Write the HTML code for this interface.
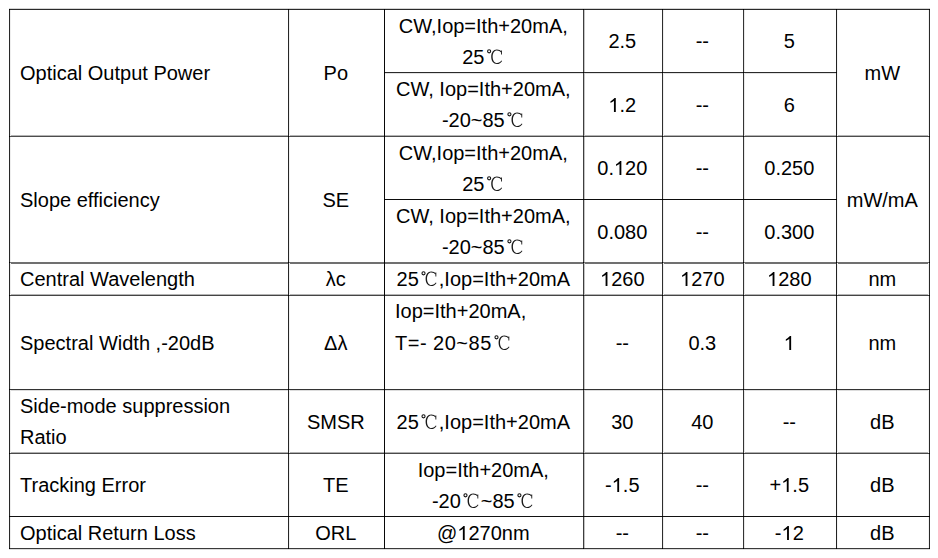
<!DOCTYPE html>
<html><head><meta charset="utf-8"><title>Optical characteristics</title>
<style>
html,body{margin:0;padding:0;background:#fff;}
body{width:938px;height:558px;position:relative;overflow:hidden;font-family:"Liberation Sans",sans-serif;}
.h,.v,.d{position:absolute;}
.d{width:1px;height:1px;background:#000;}
.t{position:absolute;font-size:20px;line-height:20px;height:20px;white-space:pre;color:#000;}
.c{text-align:center;}
.ph{display:inline-block;height:1px;}
.pd{width:20px;}
.p1{width:11.12px;}
#ov{position:absolute;left:0;top:0;}
#ov .g1{fill:#000;}
#ov .gd{fill:#1a1a1a;}
#ov .gd .s{fill:none;stroke:#111;stroke-width:1.1;}
</style></head><body>

<div class="h" style="left:9px;top:8px;width:921px;height:1px;background:#d4d4d4"></div>
<div class="h" style="left:384px;top:73px;width:453px;height:1px;background:#e2e2e2"></div>
<div class="h" style="left:9px;top:135px;width:921px;height:1px;background:#b4b4b4"></div>
<div class="h" style="left:9px;top:263px;width:921px;height:1px;background:#707070"></div>
<div class="h" style="left:9px;top:294px;width:921px;height:1px;background:#b4b4b4"></div>
<div class="h" style="left:9px;top:390px;width:921px;height:1px;background:#dcdcdc"></div>
<div class="h" style="left:9px;top:452px;width:921px;height:1px;background:#b0b0b0"></div>
<div class="h" style="left:9px;top:549px;width:921px;height:1px;background:#dcdcdc"></div>
<div class="v" style="left:10px;top:9px;width:1px;height:540px;background:#eeeeee"></div>
<div class="v" style="left:289px;top:9px;width:1px;height:540px;background:#f0f0f0"></div>
<div class="v" style="left:584px;top:9px;width:1px;height:540px;background:#c4c4c4"></div>
<div class="v" style="left:663px;top:9px;width:1px;height:540px;background:#eeeeee"></div>
<div class="v" style="left:744px;top:9px;width:1px;height:540px;background:#e8e8e8"></div>
<div class="v" style="left:837px;top:9px;width:1px;height:540px;background:#f4f4f4"></div>
<div class="v" style="left:928px;top:9px;width:1px;height:540px;background:#f2f2f2"></div>
<div class="h" style="left:9px;top:9px;width:921px;height:1px;background:#2a2a2a"></div>
<div class="h" style="left:384px;top:72px;width:453px;height:1px;background:#2a2a2a"></div>
<div class="h" style="left:9px;top:136px;width:921px;height:1px;background:#4d4d4d"></div>
<div class="h" style="left:384px;top:199px;width:453px;height:1px;background:#0c0c0c"></div>
<div class="h" style="left:9px;top:262px;width:921px;height:1px;background:#707070"></div>
<div class="h" style="left:9px;top:295px;width:921px;height:1px;background:#444444"></div>
<div class="h" style="left:9px;top:389px;width:921px;height:1px;background:#333333"></div>
<div class="h" style="left:9px;top:453px;width:921px;height:1px;background:#4a4a4a"></div>
<div class="h" style="left:9px;top:516px;width:921px;height:1px;background:#121212"></div>
<div class="h" style="left:9px;top:548px;width:921px;height:1px;background:#3a3a3a"></div>
<div class="v" style="left:9px;top:9px;width:1px;height:540px;background:#282828"></div>
<div class="v" style="left:288px;top:9px;width:1px;height:540px;background:#262626"></div>
<div class="v" style="left:384px;top:9px;width:1px;height:540px;background:#080808"></div>
<div class="v" style="left:583px;top:9px;width:1px;height:540px;background:#3e3e3e"></div>
<div class="v" style="left:662px;top:9px;width:1px;height:540px;background:#2e2e2e"></div>
<div class="v" style="left:743px;top:9px;width:1px;height:540px;background:#333333"></div>
<div class="v" style="left:836px;top:9px;width:1px;height:540px;background:#222222"></div>
<div class="v" style="left:929px;top:9px;width:1px;height:540px;background:#282828"></div>
<div class="d" style="left:9px;top:9px"></div>
<div class="d" style="left:288px;top:9px"></div>
<div class="d" style="left:384px;top:9px"></div>
<div class="d" style="left:583px;top:9px"></div>
<div class="d" style="left:662px;top:9px"></div>
<div class="d" style="left:743px;top:9px"></div>
<div class="d" style="left:836px;top:9px"></div>
<div class="d" style="left:929px;top:9px"></div>
<div class="d" style="left:384px;top:72px"></div>
<div class="d" style="left:583px;top:72px"></div>
<div class="d" style="left:662px;top:72px"></div>
<div class="d" style="left:743px;top:72px"></div>
<div class="d" style="left:836px;top:72px"></div>
<div class="d" style="left:9px;top:136px"></div>
<div class="d" style="left:288px;top:136px"></div>
<div class="d" style="left:384px;top:136px"></div>
<div class="d" style="left:583px;top:136px"></div>
<div class="d" style="left:662px;top:136px"></div>
<div class="d" style="left:743px;top:136px"></div>
<div class="d" style="left:836px;top:136px"></div>
<div class="d" style="left:929px;top:136px"></div>
<div class="d" style="left:384px;top:199px"></div>
<div class="d" style="left:583px;top:199px"></div>
<div class="d" style="left:662px;top:199px"></div>
<div class="d" style="left:743px;top:199px"></div>
<div class="d" style="left:836px;top:199px"></div>
<div class="d" style="left:9px;top:262px"></div>
<div class="d" style="left:288px;top:262px"></div>
<div class="d" style="left:384px;top:262px"></div>
<div class="d" style="left:583px;top:262px"></div>
<div class="d" style="left:662px;top:262px"></div>
<div class="d" style="left:743px;top:262px"></div>
<div class="d" style="left:836px;top:262px"></div>
<div class="d" style="left:929px;top:262px"></div>
<div class="d" style="left:9px;top:295px"></div>
<div class="d" style="left:288px;top:295px"></div>
<div class="d" style="left:384px;top:295px"></div>
<div class="d" style="left:583px;top:295px"></div>
<div class="d" style="left:662px;top:295px"></div>
<div class="d" style="left:743px;top:295px"></div>
<div class="d" style="left:836px;top:295px"></div>
<div class="d" style="left:929px;top:295px"></div>
<div class="d" style="left:9px;top:389px"></div>
<div class="d" style="left:288px;top:389px"></div>
<div class="d" style="left:384px;top:389px"></div>
<div class="d" style="left:583px;top:389px"></div>
<div class="d" style="left:662px;top:389px"></div>
<div class="d" style="left:743px;top:389px"></div>
<div class="d" style="left:836px;top:389px"></div>
<div class="d" style="left:929px;top:389px"></div>
<div class="d" style="left:9px;top:453px"></div>
<div class="d" style="left:288px;top:453px"></div>
<div class="d" style="left:384px;top:453px"></div>
<div class="d" style="left:583px;top:453px"></div>
<div class="d" style="left:662px;top:453px"></div>
<div class="d" style="left:743px;top:453px"></div>
<div class="d" style="left:836px;top:453px"></div>
<div class="d" style="left:929px;top:453px"></div>
<div class="d" style="left:9px;top:516px"></div>
<div class="d" style="left:288px;top:516px"></div>
<div class="d" style="left:384px;top:516px"></div>
<div class="d" style="left:583px;top:516px"></div>
<div class="d" style="left:662px;top:516px"></div>
<div class="d" style="left:743px;top:516px"></div>
<div class="d" style="left:836px;top:516px"></div>
<div class="d" style="left:929px;top:516px"></div>
<div class="d" style="left:9px;top:548px"></div>
<div class="d" style="left:288px;top:548px"></div>
<div class="d" style="left:384px;top:548px"></div>
<div class="d" style="left:583px;top:548px"></div>
<div class="d" style="left:662px;top:548px"></div>
<div class="d" style="left:743px;top:548px"></div>
<div class="d" style="left:836px;top:548px"></div>
<div class="d" style="left:929px;top:548px"></div>
<div class="t" style="left:20.0px;top:63px">Optical Output Power</div>
<div class="t c" style="left:287.8px;width:96px;top:63px">Po</div>
<div class="t c" style="left:383.8px;width:199px;top:16px">CW,Iop=Ith+20mA,</div>
<div class="t c" style="left:383.8px;width:199px;top:47px">25<span class="ph pd"></span></div>
<div class="t c" style="left:383.8px;width:199px;top:79px">CW, Iop=Ith+20mA,</div>
<div class="t c" style="left:383.8px;width:199px;top:110px">-20~85<span class="ph pd"></span></div>
<div class="t c" style="left:582.8px;width:79px;top:31px">2.5</div>
<div class="t c" style="left:582.8px;width:79px;top:95px"><span class="ph p1"></span>.2</div>
<div class="t c" style="left:661.8px;width:81px;top:31px">--</div>
<div class="t c" style="left:661.8px;width:81px;top:95px">--</div>
<div class="t c" style="left:742.8px;width:93px;top:31px">5</div>
<div class="t c" style="left:742.8px;width:93px;top:95px">6</div>
<div class="t c" style="left:835.8px;width:93px;top:63px">mW</div>
<div class="t" style="left:20.0px;top:190px">Slope efficiency</div>
<div class="t c" style="left:287.8px;width:96px;top:190px">SE</div>
<div class="t c" style="left:383.8px;width:199px;top:143px">CW,Iop=Ith+20mA,</div>
<div class="t c" style="left:383.8px;width:199px;top:174px">25<span class="ph pd"></span></div>
<div class="t c" style="left:383.8px;width:199px;top:206px">CW, Iop=Ith+20mA,</div>
<div class="t c" style="left:383.8px;width:199px;top:237px">-20~85<span class="ph pd"></span></div>
<div class="t c" style="left:582.8px;width:79px;top:158px">0.<span class="ph p1"></span>20</div>
<div class="t c" style="left:582.8px;width:79px;top:222px">0.080</div>
<div class="t c" style="left:661.8px;width:81px;top:158px">--</div>
<div class="t c" style="left:661.8px;width:81px;top:222px">--</div>
<div class="t c" style="left:742.8px;width:93px;top:158px">0.250</div>
<div class="t c" style="left:742.8px;width:93px;top:222px">0.300</div>
<div class="t c" style="left:835.8px;width:93px;top:190px">mW/mA</div>
<div class="t" style="left:20.0px;top:269px">Central Wavelength</div>
<div class="t c" style="left:287.8px;width:96px;top:269px">λc</div>
<div class="t c" style="left:383.8px;width:199px;top:269px">25<span class="ph pd"></span>,Iop=Ith+20mA</div>
<div class="t c" style="left:582.8px;width:79px;top:269px"><span class="ph p1"></span>260</div>
<div class="t c" style="left:661.8px;width:81px;top:269px"><span class="ph p1"></span>270</div>
<div class="t c" style="left:742.8px;width:93px;top:269px"><span class="ph p1"></span>280</div>
<div class="t c" style="left:835.8px;width:93px;top:269px">nm</div>
<div class="t" style="left:20.0px;top:333px">Spectral Width ,-20dB</div>
<div class="t c" style="left:287.8px;width:96px;top:333px">Δλ</div>
<div class="t" style="left:395.0px;top:301px">Iop=Ith+20mA,</div>
<div class="t" style="left:395.0px;top:333px"><span style="letter-spacing:0.5px">T=- 20~85</span><span class="ph pd"></span></div>
<div class="t c" style="left:582.8px;width:79px;top:333px">--</div>
<div class="t c" style="left:661.8px;width:81px;top:333px">0.3</div>
<div class="t c" style="left:742.8px;width:93px;top:333px"><span class="ph p1"></span></div>
<div class="t c" style="left:835.8px;width:93px;top:333px">nm</div>
<div class="t" style="left:20.0px;top:396px">Side-mode suppression</div>
<div class="t" style="left:20.0px;top:427px">Ratio</div>
<div class="t c" style="left:287.8px;width:96px;top:412px">SMSR</div>
<div class="t c" style="left:383.8px;width:199px;top:412px">25<span class="ph pd"></span>,Iop=Ith+20mA</div>
<div class="t c" style="left:582.8px;width:79px;top:412px">30</div>
<div class="t c" style="left:661.8px;width:81px;top:412px">40</div>
<div class="t c" style="left:742.8px;width:93px;top:412px">--</div>
<div class="t c" style="left:835.8px;width:93px;top:412px">dB</div>
<div class="t" style="left:20.0px;top:475px">Tracking Error</div>
<div class="t c" style="left:287.8px;width:96px;top:475px">TE</div>
<div class="t c" style="left:383.8px;width:199px;top:460px">Iop=Ith+20mA,</div>
<div class="t c" style="left:383.8px;width:199px;top:491px">-20<span class="ph pd"></span>~85<span class="ph pd"></span></div>
<div class="t c" style="left:582.8px;width:79px;top:475px">-<span class="ph p1"></span>.5</div>
<div class="t c" style="left:661.8px;width:81px;top:475px">--</div>
<div class="t c" style="left:742.8px;width:93px;top:475px">+<span class="ph p1"></span>.5</div>
<div class="t c" style="left:835.8px;width:93px;top:475px">dB</div>
<div class="t" style="left:20.0px;top:523px">Optical Return Loss</div>
<div class="t c" style="left:287.8px;width:96px;top:523px">ORL</div>
<div class="t c" style="left:383.8px;width:199px;top:523px">@<span class="ph p1"></span>270nm</div>
<div class="t c" style="left:582.8px;width:79px;top:523px">--</div>
<div class="t c" style="left:661.8px;width:81px;top:523px">--</div>
<div class="t c" style="left:742.8px;width:93px;top:523px">-<span class="ph p1"></span>2</div>
<div class="t c" style="left:835.8px;width:93px;top:523px">dB</div>
<svg id="ov" width="938" height="558" viewBox="0 0 938 558">
<g class="g1"><path transform="translate(608.391 112.00)" d="M7.4 0L5.55 0L5.55 -11.3C5.1 -10.85 4.5 -10.4 3.8 -10.0C3.2 -9.6 2.6 -9.25 2.1 -9.0L2.1 -10.8C3.0 -11.25 3.85 -11.8 4.55 -12.45C5.25 -13.05 5.75 -13.55 6.1 -14.0L7.4 -14.0Z"/><path transform="translate(613.953 175.00)" d="M7.4 0L5.55 0L5.55 -11.3C5.1 -10.85 4.5 -10.4 3.8 -10.0C3.2 -9.6 2.6 -9.25 2.1 -9.0L2.1 -10.8C3.0 -11.25 3.85 -11.8 4.55 -12.45C5.25 -13.05 5.75 -13.55 6.1 -14.0L7.4 -14.0Z"/><path transform="translate(600.047 286.00)" d="M7.4 0L5.55 0L5.55 -11.3C5.1 -10.85 4.5 -10.4 3.8 -10.0C3.2 -9.6 2.6 -9.25 2.1 -9.0L2.1 -10.8C3.0 -11.25 3.85 -11.8 4.55 -12.45C5.25 -13.05 5.75 -13.55 6.1 -14.0L7.4 -14.0Z"/><path transform="translate(680.047 286.00)" d="M7.4 0L5.55 0L5.55 -11.3C5.1 -10.85 4.5 -10.4 3.8 -10.0C3.2 -9.6 2.6 -9.25 2.1 -9.0L2.1 -10.8C3.0 -11.25 3.85 -11.8 4.55 -12.45C5.25 -13.05 5.75 -13.55 6.1 -14.0L7.4 -14.0Z"/><path transform="translate(767.047 286.00)" d="M7.4 0L5.55 0L5.55 -11.3C5.1 -10.85 4.5 -10.4 3.8 -10.0C3.2 -9.6 2.6 -9.25 2.1 -9.0L2.1 -10.8C3.0 -11.25 3.85 -11.8 4.55 -12.45C5.25 -13.05 5.75 -13.55 6.1 -14.0L7.4 -14.0Z"/><path transform="translate(783.734 350.00)" d="M7.4 0L5.55 0L5.55 -11.3C5.1 -10.85 4.5 -10.4 3.8 -10.0C3.2 -9.6 2.6 -9.25 2.1 -9.0L2.1 -10.8C3.0 -11.25 3.85 -11.8 4.55 -12.45C5.25 -13.05 5.75 -13.55 6.1 -14.0L7.4 -14.0Z"/><path transform="translate(611.734 492.00)" d="M7.4 0L5.55 0L5.55 -11.3C5.1 -10.85 4.5 -10.4 3.8 -10.0C3.2 -9.6 2.6 -9.25 2.1 -9.0L2.1 -10.8C3.0 -11.25 3.85 -11.8 4.55 -12.45C5.25 -13.05 5.75 -13.55 6.1 -14.0L7.4 -14.0Z"/><path transform="translate(781.234 492.00)" d="M7.4 0L5.55 0L5.55 -11.3C5.1 -10.85 4.5 -10.4 3.8 -10.0C3.2 -9.6 2.6 -9.25 2.1 -9.0L2.1 -10.8C3.0 -11.25 3.85 -11.8 4.55 -12.45C5.25 -13.05 5.75 -13.55 6.1 -14.0L7.4 -14.0Z"/><path transform="translate(457.312 540.00)" d="M7.4 0L5.55 0L5.55 -11.3C5.1 -10.85 4.5 -10.4 3.8 -10.0C3.2 -9.6 2.6 -9.25 2.1 -9.0L2.1 -10.8C3.0 -11.25 3.85 -11.8 4.55 -12.45C5.25 -13.05 5.75 -13.55 6.1 -14.0L7.4 -14.0Z"/><path transform="translate(781.516 540.00)" d="M7.4 0L5.55 0L5.55 -11.3C5.1 -10.85 4.5 -10.4 3.8 -10.0C3.2 -9.6 2.6 -9.25 2.1 -9.0L2.1 -10.8C3.0 -11.25 3.85 -11.8 4.55 -12.45C5.25 -13.05 5.75 -13.55 6.1 -14.0L7.4 -14.0Z"/></g>
<g class="gd"><g transform="translate(484.422 63.90)"><circle class="s" cx="4.7" cy="-12.6" r="1.55"/><path d="M17.3 -12.2C16.1 -13.6 14.4 -14.4 12.4 -14.4C8.9 -14.4 6.8 -11.3 6.8 -7.15C6.8 -2.8 9.1 0.1 12.5 0.1C14.8 0.1 16.5 -1.1 17.7 -3.0L17.0 -3.4C16.0 -1.9 14.5 -0.9 12.6 -0.9C9.9 -0.9 8.2 -3.5 8.2 -7.15C8.2 -10.8 9.9 -13.4 12.5 -13.4C14.2 -13.4 15.7 -12.6 16.7 -11.4Z"/><rect x="16.6" y="-13.4" width="0.9" height="4"/></g><g transform="translate(504.719 126.90)"><circle class="s" cx="4.7" cy="-12.6" r="1.55"/><path d="M17.3 -12.2C16.1 -13.6 14.4 -14.4 12.4 -14.4C8.9 -14.4 6.8 -11.3 6.8 -7.15C6.8 -2.8 9.1 0.1 12.5 0.1C14.8 0.1 16.5 -1.1 17.7 -3.0L17.0 -3.4C16.0 -1.9 14.5 -0.9 12.6 -0.9C9.9 -0.9 8.2 -3.5 8.2 -7.15C8.2 -10.8 9.9 -13.4 12.5 -13.4C14.2 -13.4 15.7 -12.6 16.7 -11.4Z"/><rect x="16.6" y="-13.4" width="0.9" height="4"/></g><g transform="translate(484.422 190.90)"><circle class="s" cx="4.7" cy="-12.6" r="1.55"/><path d="M17.3 -12.2C16.1 -13.6 14.4 -14.4 12.4 -14.4C8.9 -14.4 6.8 -11.3 6.8 -7.15C6.8 -2.8 9.1 0.1 12.5 0.1C14.8 0.1 16.5 -1.1 17.7 -3.0L17.0 -3.4C16.0 -1.9 14.5 -0.9 12.6 -0.9C9.9 -0.9 8.2 -3.5 8.2 -7.15C8.2 -10.8 9.9 -13.4 12.5 -13.4C14.2 -13.4 15.7 -12.6 16.7 -11.4Z"/><rect x="16.6" y="-13.4" width="0.9" height="4"/></g><g transform="translate(504.719 253.90)"><circle class="s" cx="4.7" cy="-12.6" r="1.55"/><path d="M17.3 -12.2C16.1 -13.6 14.4 -14.4 12.4 -14.4C8.9 -14.4 6.8 -11.3 6.8 -7.15C6.8 -2.8 9.1 0.1 12.5 0.1C14.8 0.1 16.5 -1.1 17.7 -3.0L17.0 -3.4C16.0 -1.9 14.5 -0.9 12.6 -0.9C9.9 -0.9 8.2 -3.5 8.2 -7.15C8.2 -10.8 9.9 -13.4 12.5 -13.4C14.2 -13.4 15.7 -12.6 16.7 -11.4Z"/><rect x="16.6" y="-13.4" width="0.9" height="4"/></g><g transform="translate(418.812 285.90)"><circle class="s" cx="4.7" cy="-12.6" r="1.55"/><path d="M17.3 -12.2C16.1 -13.6 14.4 -14.4 12.4 -14.4C8.9 -14.4 6.8 -11.3 6.8 -7.15C6.8 -2.8 9.1 0.1 12.5 0.1C14.8 0.1 16.5 -1.1 17.7 -3.0L17.0 -3.4C16.0 -1.9 14.5 -0.9 12.6 -0.9C9.9 -0.9 8.2 -3.5 8.2 -7.15C8.2 -10.8 9.9 -13.4 12.5 -13.4C14.2 -13.4 15.7 -12.6 16.7 -11.4Z"/><rect x="16.6" y="-13.4" width="0.9" height="4"/></g><g transform="translate(491.797 349.90)"><circle class="s" cx="4.7" cy="-12.6" r="1.55"/><path d="M17.3 -12.2C16.1 -13.6 14.4 -14.4 12.4 -14.4C8.9 -14.4 6.8 -11.3 6.8 -7.15C6.8 -2.8 9.1 0.1 12.5 0.1C14.8 0.1 16.5 -1.1 17.7 -3.0L17.0 -3.4C16.0 -1.9 14.5 -0.9 12.6 -0.9C9.9 -0.9 8.2 -3.5 8.2 -7.15C8.2 -10.8 9.9 -13.4 12.5 -13.4C14.2 -13.4 15.7 -12.6 16.7 -11.4Z"/><rect x="16.6" y="-13.4" width="0.9" height="4"/></g><g transform="translate(418.812 428.90)"><circle class="s" cx="4.7" cy="-12.6" r="1.55"/><path d="M17.3 -12.2C16.1 -13.6 14.4 -14.4 12.4 -14.4C8.9 -14.4 6.8 -11.3 6.8 -7.15C6.8 -2.8 9.1 0.1 12.5 0.1C14.8 0.1 16.5 -1.1 17.7 -3.0L17.0 -3.4C16.0 -1.9 14.5 -0.9 12.6 -0.9C9.9 -0.9 8.2 -3.5 8.2 -7.15C8.2 -10.8 9.9 -13.4 12.5 -13.4C14.2 -13.4 15.7 -12.6 16.7 -11.4Z"/><rect x="16.6" y="-13.4" width="0.9" height="4"/></g><g transform="translate(460.781 507.90)"><circle class="s" cx="4.7" cy="-12.6" r="1.55"/><path d="M17.3 -12.2C16.1 -13.6 14.4 -14.4 12.4 -14.4C8.9 -14.4 6.8 -11.3 6.8 -7.15C6.8 -2.8 9.1 0.1 12.5 0.1C14.8 0.1 16.5 -1.1 17.7 -3.0L17.0 -3.4C16.0 -1.9 14.5 -0.9 12.6 -0.9C9.9 -0.9 8.2 -3.5 8.2 -7.15C8.2 -10.8 9.9 -13.4 12.5 -13.4C14.2 -13.4 15.7 -12.6 16.7 -11.4Z"/><rect x="16.6" y="-13.4" width="0.9" height="4"/></g><g transform="translate(514.719 507.90)"><circle class="s" cx="4.7" cy="-12.6" r="1.55"/><path d="M17.3 -12.2C16.1 -13.6 14.4 -14.4 12.4 -14.4C8.9 -14.4 6.8 -11.3 6.8 -7.15C6.8 -2.8 9.1 0.1 12.5 0.1C14.8 0.1 16.5 -1.1 17.7 -3.0L17.0 -3.4C16.0 -1.9 14.5 -0.9 12.6 -0.9C9.9 -0.9 8.2 -3.5 8.2 -7.15C8.2 -10.8 9.9 -13.4 12.5 -13.4C14.2 -13.4 15.7 -12.6 16.7 -11.4Z"/><rect x="16.6" y="-13.4" width="0.9" height="4"/></g></g>
</svg>
</body></html>
